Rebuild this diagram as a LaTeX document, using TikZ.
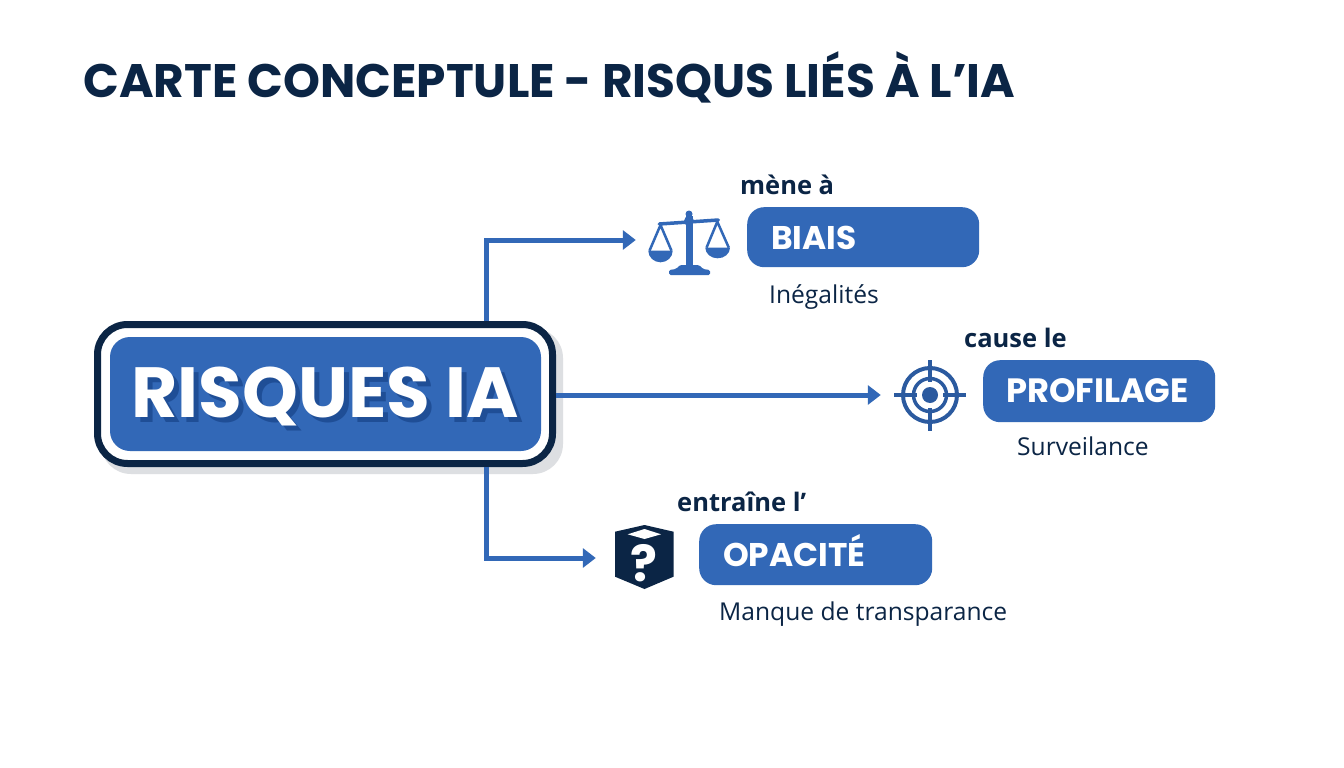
\documentclass[tikz,border=0pt]{standalone}
\usepackage{fontspec}
\setmainfont{Poppins}
\newfontfamily\labelfont{Open Sans}
\usetikzlibrary{arrows.meta,calc}
\definecolor{navy}{HTML}{0B2545}
\definecolor{ablue}{HTML}{3268B7}
\definecolor{dblue}{HTML}{1F4E96}
\definecolor{tblue}{HTML}{2B5A9F}
\definecolor{shadowgray}{HTML}{DDDFE2}
\tikzset{
 pill/.style={fill=ablue,rounded corners=17pt,anchor=north west,inner sep=0pt},
 pilltext/.style={text=white,font=\fontsize{32.8}{33}\selectfont\bfseries,anchor=base west,inner sep=0pt},
 verb/.style={text=navy,font=\fontsize{25.5}{25.5}\selectfont\labelfont\bfseries,anchor=base west,inner sep=0pt},
 note/.style={text=navy,font=\fontsize{24.6}{24.6}\selectfont\labelfont,anchor=base west,inner sep=0pt},
 conn/.style={draw=ablue,line width=5pt,-{Triangle[length=13pt,width=19pt]}},
 anchorpt/.style={inner sep=0pt,minimum size=0pt},
}
\begin{document}
\begin{tikzpicture}[x=1pt,y=-1pt]
\useasboundingbox (0,0) rectangle (1344,768);
\fill[white] (0,0) rectangle (1344,768);
\node[anchor=base west,inner sep=0pt,text=navy,font=\fontsize{47}{47}\selectfont\bfseries] (title) at (83,97) {CARTE CONCEPTULE - RISQUS LIÉS À L’IA};

\node[anchorpt] (i1) at (636,240) {};
\node[anchorpt] (i2) at (881,395) {};
\node[anchorpt] (i3) at (596,558) {};
\coordinate (bend) at (486,395);
\coordinate (midr) at (556,395);

% main box
\fill[shadowgray,rounded corners=30pt] (101,328) rectangle (563,474);
\node[draw=navy,line width=7pt,fill=white,rounded corners=30pt,minimum width=455pt,minimum height=139pt,inner sep=0pt] (main) at (325,394) {};
\draw[conn] (main.north -| bend) |- (i1);
\draw[conn] (main.east |- midr) -- (i2);
\draw[conn] (main.south -| bend) |- (i3);
\node[fill=ablue,rounded corners=20pt,minimum width=431pt,minimum height=114pt,inner sep=0pt] (core) at (325.5,394) {};
\node[anchor=base,inner sep=0pt,text=dblue,font=\fontsize{71}{71}\selectfont\bfseries] (ms) at (330,422) {RISQUES IA};
\node[anchor=base,inner sep=0pt,text=white,font=\fontsize{71}{71}\selectfont\bfseries] (mt) at (325,417) {RISQUES IA};

% right boxes
\node[pill,minimum width=232pt,minimum height=60pt] (b1) at (747,207) {};
\node[pilltext] (b1t) at (771,249) {BIAIS};
\node[verb] (v1) at (740,194) {mène à};
\node[note] (n1) at (769,303) {Inégalités};

\node[pill,minimum width=232pt,minimum height=62pt] (b2) at (983,360) {};
\node[pilltext,font=\fontsize{33.7}{34}\selectfont\bfseries] (b2t) at (1006,402) {PROFILAGE};
\node[verb] (v2) at (964,347) {cause le};
\node[note] (n2) at (1017,455) {Surveilance};

\node[pill,minimum width=233pt,minimum height=61pt] (b3) at (699,524) {};
\node[pilltext] (b3t) at (723,566) {OPACITÉ};
\node[verb] (v3) at (677,511) {entraîne l’};
\node[note] (n3) at (719,620) {Manque de transparance};

% scales icon
\begin{scope}[ablue]
\draw[line width=3.5pt,line cap=round] (659.3,224) -- (718.3,220);
\fill (686,216) rectangle (692.7,267);
\fill (689,214) circle (3.5);
\fill (689,221) circle (5);
\fill[rounded corners=1.5pt] (669,275) -- (669,270) -- (676,269) -- (680,265) -- (699,265) -- (703,269) -- (710,270) -- (710,275) -- cycle;
\draw[line width=2.5pt,line join=round] (649.5,250.7) -- (660.5,225) -- (671.5,250.7);
\fill (648.3,250.7) -- (672.7,250.7) arc (0:180:12.2 and 11.6) -- cycle;
\draw[line width=2.5pt,line join=round] (706.5,247.7) -- (717.3,221.7) -- (728.8,247.7);
\fill (705.3,247.7) -- (730,247.7) arc (0:180:12.35 and 10.6) -- cycle;
\end{scope}

% target icon
\begin{scope}[tblue]
\draw[line width=4pt] (930,395) circle (27);
\draw[line width=3.5pt] (930,395) circle (16.5);
\fill (930,395) circle (8);
\draw[line width=3.5pt] (894,395) -- (917,395) (943,395) -- (966,395) (930,360) -- (930,382) (930,408) -- (930,431);
\end{scope}

% box icon
\fill[navy] (644.5,525) -- (673.5,531.7) -- (673.5,576.7) -- (644.5,589) -- (615,576.7) -- (615,531.7) -- cycle;
\fill[white] (644.5,529) -- (661,534.3) -- (644.5,539) -- (627.7,534.3) -- cycle;
\node[inner sep=0pt,text=white,font=\fontsize{50}{50}\selectfont\bfseries] (q) at (644,563) {?};
\end{tikzpicture}
\end{document}
